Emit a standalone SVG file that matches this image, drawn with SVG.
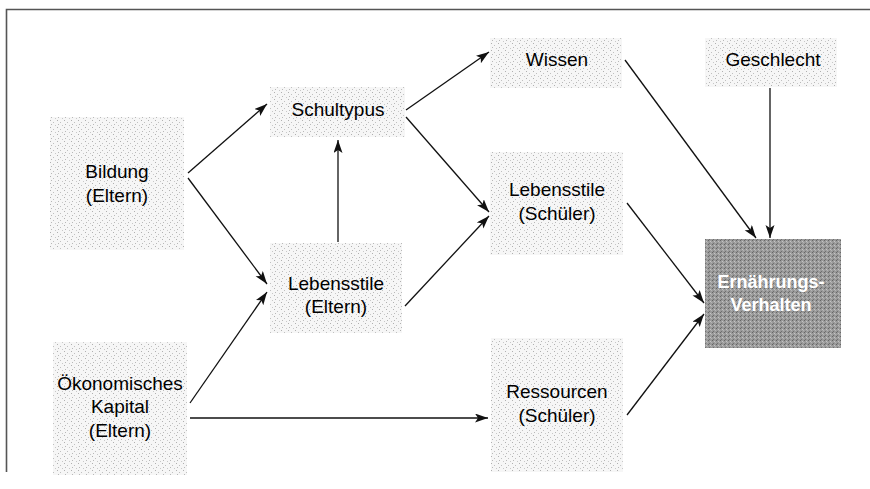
<svg xmlns="http://www.w3.org/2000/svg" width="870" height="489" viewBox="0 0 870 489">
<style>
.box{fill:url(#dots);}
.dark{fill:url(#darkdots);}
.t{font-family:"Liberation Sans",Arial,sans-serif;font-size:19px;fill:#000;text-anchor:middle;}
.tw{font-family:"Liberation Sans",Arial,sans-serif;font-size:18px;font-weight:700;fill:#fff;text-anchor:middle;}
.c{stroke:#111;stroke-width:1.3;fill:none;marker-end:url(#arr);}
.frame{stroke:#555;stroke-width:1.6;fill:none;}
</style>
<defs>
<pattern id="dots" width="7" height="7" patternUnits="userSpaceOnUse">
<rect width="7" height="7" fill="#f6f6f6"/>
<rect x="1" y="1" width="1" height="1" fill="#b0b0b0"/>
<rect x="4" y="3" width="1" height="1" fill="#c0c0c0"/>
<rect x="2" y="5" width="1" height="1" fill="#b8b8b8"/>
<rect x="6" y="6" width="1" height="1" fill="#c8c8c8"/>
</pattern>
<pattern id="darkdots" width="4" height="4" patternUnits="userSpaceOnUse">
<rect width="4" height="4" fill="#9a9a9a"/>
<rect x="0" y="0" width="1" height="1" fill="#666"/>
<rect x="2" y="1" width="1" height="1" fill="#c4c4c4"/>
<rect x="1" y="3" width="1" height="1" fill="#707070"/>
<rect x="3" y="2" width="1" height="1" fill="#b4b4b4"/>
</pattern>
<marker id="arr" markerUnits="userSpaceOnUse" markerWidth="14" markerHeight="10" refX="13" refY="4.5" orient="auto">
<path d="M0,0 L13,4.5 L0,9 L3,4.5 z" fill="#111"/>
</marker>
</defs>
<rect width="870" height="489" fill="#fff"/>
<path class="frame" d="M870,9.5 H6.5 V472"/>
<g id="bildung"><rect class="box" x="50" y="117" width="134" height="133"/><text class="t" x="117" y="178">Bildung</text><text class="t" x="117" y="202">(Eltern)</text></g>
<g id="oekonomisches"><rect class="box" x="53" y="342" width="134" height="133"/><text class="t" x="120" y="390">Ökonomisches</text><text class="t" x="120" y="413">Kapital</text><text class="t" x="120" y="437">(Eltern)</text></g>
<g id="schultypus"><rect class="box" x="270" y="87" width="135" height="50"/><text class="t" x="338" y="116">Schultypus</text></g>
<g id="lebensstile-eltern"><rect class="box" x="270" y="243" width="132" height="90"/><text class="t" x="336" y="290">Lebensstile</text><text class="t" x="336" y="313">(Eltern)</text></g>
<g id="wissen"><rect class="box" x="490" y="38" width="132" height="50"/><text class="t" x="557" y="66">Wissen</text></g>
<g id="lebensstile-schueler"><rect class="box" x="490" y="152" width="133" height="103"/><text class="t" x="557" y="196">Lebensstile</text><text class="t" x="557" y="220">(Schüler)</text></g>
<g id="ressourcen"><rect class="box" x="491" y="338" width="132" height="134"/><text class="t" x="557" y="398">Ressourcen</text><text class="t" x="557" y="422">(Schüler)</text></g>
<g id="geschlecht"><rect class="box" x="705" y="38" width="132" height="49"/><text class="t" x="773" y="66">Geschlecht</text></g>
<g id="ernaehrung"><rect class="dark" x="705" y="239" width="136" height="109"/><text class="tw" x="771" y="288">Ernährungs-</text><text class="tw" x="771" y="311">Verhalten</text></g>
<g id="connectors">
<line class="c" x1="188" y1="173" x2="267" y2="104"/>
<line class="c" x1="188" y1="178" x2="267" y2="284"/>
<line class="c" x1="190" y1="403" x2="267" y2="292"/>
<line class="c" x1="190" y1="418" x2="488" y2="418"/>
<line class="c" x1="338" y1="242" x2="338" y2="140"/>
<line class="c" x1="406" y1="110" x2="489" y2="52"/>
<line class="c" x1="406" y1="117" x2="489" y2="212"/>
<line class="c" x1="405" y1="306" x2="489" y2="216"/>
<line class="c" x1="625" y1="60" x2="756" y2="238"/>
<line class="c" x1="770" y1="88" x2="770" y2="238"/>
<line class="c" x1="627" y1="203" x2="704" y2="303"/>
<line class="c" x1="627" y1="415" x2="704" y2="314"/>
</g>
</svg>
